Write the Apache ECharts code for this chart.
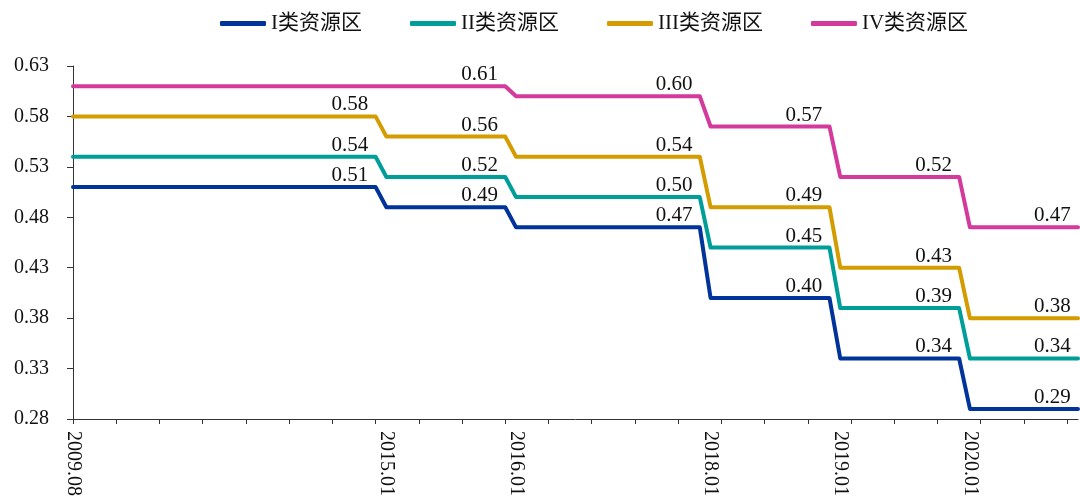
<!DOCTYPE html>
<html>
<head>
<meta charset="utf-8">
<script src="https://cdn.jsdelivr.net/npm/echarts@6/dist/echarts.min.js"></script>
<style>
html,body{margin:0;padding:0;background:#fff;}
#chart{width:1080px;height:499px;}
</style>
</head>
<body>
<div id="chart"></div>
<script>
// Tariff periods (labels on the x axis) and how many axis slots each period spans
const periods = ['2009.08', '2015.01', '2016.01', '2018.01', '2019.01', '2020.01'];
const periodSlots = [29, 12, 18, 12, 12, 11];

// Benchmark prices per resource zone, one value per period
const typeI   = [0.51, 0.49, 0.47, 0.40, 0.34, 0.29];
const typeII  = [0.54, 0.52, 0.50, 0.45, 0.39, 0.34];
const typeIII = [0.58, 0.56, 0.54, 0.49, 0.43, 0.38];
const typeIV  = [0.61, 0.61, 0.60, 0.57, 0.52, 0.47];

const seriesNames = ['I类资源区', 'II类资源区', 'III类资源区', 'IV类资源区'];
const seriesColors = ['#00349B', '#009E99', '#D49C00', '#D43A9C'];

const yTicks = { min: 0.28, max: 0.63, step: 0.05 };

// Build category axis: label at the first slot of each period, blank otherwise
const categories = [];
periods.forEach((p, i) => {
  for (let s = 0; s < periodSlots[i]; s++) categories.push(s === 0 ? p : '');
});

function expand(values) {
  const out = [];
  values.forEach((v, i) => {
    const n = periodSlots[i];
    const isPlateauEnd = (i === values.length - 1) || values[i + 1] !== v;
    for (let s = 0; s < n; s++) {
      if (isPlateauEnd && s === n - 3) {
        out.push({ value: v, label: { show: true } });
      } else {
        out.push(v);
      }
    }
  });
  return out;
}

const serif = "'Liberation Serif', 'Times New Roman', 'Noto Sans CJK SC', serif";
const dataSets = [typeI, typeII, typeIII, typeIV];

const chart = echarts.init(document.getElementById('chart'), null, { renderer: 'canvas' });
chart.setOption({
  animation: false,
  backgroundColor: '#fff',
  legend: {
    data: seriesNames,
    left: 215,
    top: 8,
    itemWidth: 46,
    itemHeight: 5,
    itemGap: 48,
    icon: 'roundRect',
    textStyle: { fontFamily: serif, fontSize: 21, color: '#111' }
  },
  grid: { left: 73, right: 2, top: 66, bottom: 78, containLabel: false },
  xAxis: {
    type: 'category',
    data: categories,
    boundaryGap: false,
    axisLine: { lineStyle: { color: '#333', width: 1 } },
    axisTick: { interval: 3, length: 5, lineStyle: { color: '#333' } },
    axisLabel: {
      interval: (i, v) => v !== '',
      rotate: -90,
      margin: 12,
      fontFamily: serif,
      fontSize: 20,
      color: '#111'
    },
    splitLine: { show: false }
  },
  yAxis: {
    type: 'value',
    min: yTicks.min,
    max: yTicks.max,
    interval: yTicks.step,
    axisLine: { show: true, lineStyle: { color: '#333', width: 1 } },
    axisTick: { show: true, length: 6, lineStyle: { color: '#333' } },
    axisLabel: {
      margin: 24,
      fontFamily: serif,
      fontSize: 20,
      color: '#111',
      formatter: v => v.toFixed(2)
    },
    splitLine: { show: false }
  },
  series: dataSets.map((d, k) => ({
    name: seriesNames[k],
    type: 'line',
    data: expand(d),
    showSymbol: true,
    showAllSymbol: true,
    symbol: 'circle',
    symbolSize: 0.01,
    color: seriesColors[k],
    itemStyle: { color: seriesColors[k] },
    lineStyle: { width: 4, color: seriesColors[k], join: 'round', cap: 'round' },
    label: {
      show: false,
      position: 'top',
      distance: 1,
      offset: [-4, 0],
      fontFamily: serif,
      fontSize: 21,
      color: '#111',
      formatter: p => Number(p.value).toFixed(2)
    },
    emphasis: { disabled: true },
    z: 2 + k
  }))
});
</script>
</body>
</html>
